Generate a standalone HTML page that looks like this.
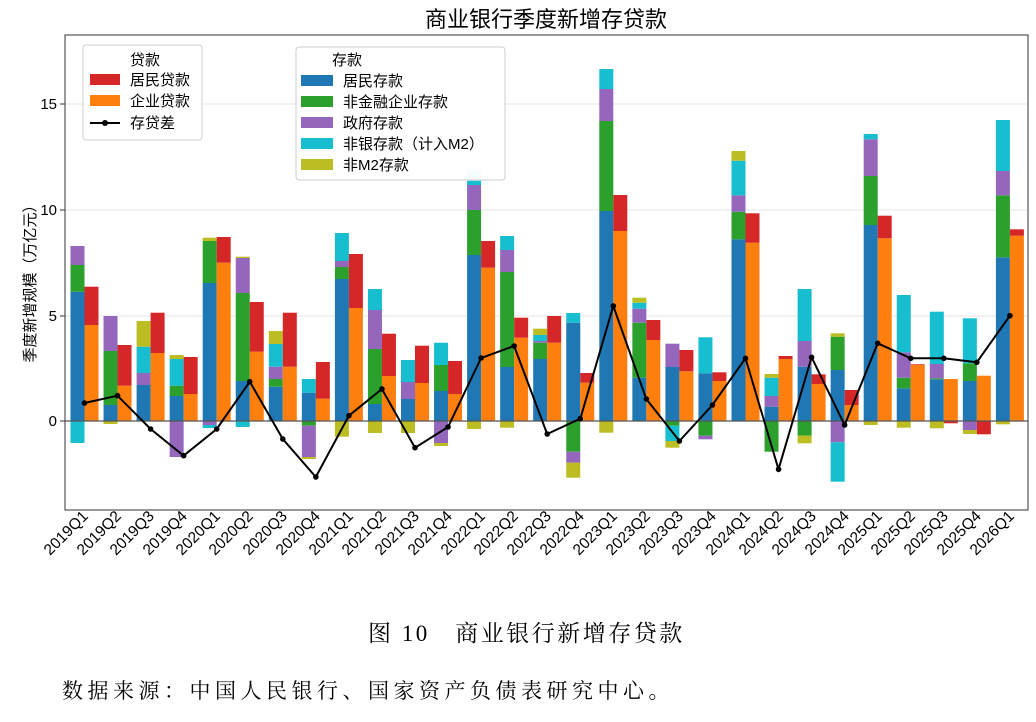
<!DOCTYPE html>
<html><head><meta charset="utf-8"><style>
body{margin:0;background:#fff;width:1036px;height:722px;overflow:hidden}
svg{display:block}
.t{font-family:"Liberation Sans","Noto Sans CJK SC",sans-serif;fill:#000}
.s{font-family:"Liberation Serif","Noto Serif CJK SC",serif;fill:#000}
.x{font-family:"Liberation Sans","Noto Sans CJK SC",sans-serif;fill:#000;font-size:15.5px;text-anchor:end}
</style></head><body>
<svg id="c" width="1036" height="722" xmlns="http://www.w3.org/2000/svg">
<rect width="1036" height="722" fill="#fff"/>
<g stroke="#e6e6e6" stroke-width="1">
<line x1="65" x2="1028" y1="104" y2="104"/>
<line x1="65" x2="1028" y1="210" y2="210"/>
<line x1="65" x2="1028" y1="316" y2="316"/>
</g>
<g id="bars"></g>
<line x1="65" x2="1028" y1="421" y2="421" stroke="#555" stroke-width="1.3"/>
<polyline id="ln" fill="none" stroke="#000" stroke-width="2"/>
<g id="dots"></g>
<rect x="65" y="35" width="963" height="475" fill="none" stroke="#333" stroke-width="1"/>
<g stroke="#333"><line x1="60" x2="65" y1="104" y2="104"/><line x1="60" x2="65" y1="210" y2="210"/><line x1="60" x2="65" y1="316" y2="316"/><line x1="60" x2="65" y1="421" y2="421"/></g>
<g class="t" font-size="15" text-anchor="end">
<text x="57" y="109">15</text><text x="57" y="215">10</text><text x="57" y="321">5</text><text x="57" y="426">0</text>
</g>
<text class="t" font-size="15" transform="translate(35,280) rotate(-90)" text-anchor="middle">季度新增规模（万亿元）</text>
<text class="t" font-size="22" x="546" y="27" text-anchor="middle">商业银行季度新增存贷款</text>
<!-- legend 1 -->
<rect x="83" y="45" width="119" height="95" rx="3" fill="#fff" fill-opacity="0.85" stroke="#ccc"/>
<text class="t" font-size="15" x="145" y="65" text-anchor="middle">贷款</text>
<rect x="90" y="74" width="30" height="11" fill="#d62728"/>
<text class="t" font-size="15" x="130" y="85">居民贷款</text>
<rect x="90" y="95" width="30" height="11" fill="#ff7f0e"/>
<text class="t" font-size="15" x="130" y="106">企业贷款</text>
<line x1="90" x2="120" y1="123" y2="123" stroke="#000" stroke-width="2"/><circle cx="105" cy="123" r="3" fill="#000"/>
<text class="t" font-size="15" x="130" y="128">存贷差</text>
<!-- legend 2 -->
<rect x="296" y="47" width="209" height="133" rx="3" fill="#fff" fill-opacity="0.85" stroke="#ccc"/>
<text class="t" font-size="15" x="347" y="65" text-anchor="middle">存款</text>
<rect x="301" y="75" width="32" height="11" fill="#1f77b4"/><text class="t" font-size="15" x="343" y="86">居民存款</text>
<rect x="301" y="96" width="32" height="11" fill="#2ca02c"/><text class="t" font-size="15" x="343" y="107">非金融企业存款</text>
<rect x="301" y="117" width="32" height="11" fill="#9467bd"/><text class="t" font-size="15" x="343" y="128">政府存款</text>
<rect x="301" y="138" width="32" height="11" fill="#17becf"/><text class="t" font-size="15" x="343" y="149">非银存款（计入M2）</text>
<rect x="301" y="159" width="32" height="11" fill="#bcbd22"/><text class="t" font-size="15" x="343" y="170">非M2存款</text>
<text class="s" font-size="23" x="368" y="641" letter-spacing="2.5">图 10　商业银行新增存贷款</text>
<text class="s" font-size="21" x="62" y="698" letter-spacing="4.5">数据来源：中国人民银行、国家资产负债表研究中心。</text>
<text class="x" transform="translate(89,517) rotate(-45)">2019Q1</text>
<text class="x" transform="translate(122,517) rotate(-45)">2019Q2</text>
<text class="x" transform="translate(155,517) rotate(-45)">2019Q3</text>
<text class="x" transform="translate(188,517) rotate(-45)">2019Q4</text>
<text class="x" transform="translate(221,517) rotate(-45)">2020Q1</text>
<text class="x" transform="translate(254,517) rotate(-45)">2020Q2</text>
<text class="x" transform="translate(288,517) rotate(-45)">2020Q3</text>
<text class="x" transform="translate(321,517) rotate(-45)">2020Q4</text>
<text class="x" transform="translate(354,517) rotate(-45)">2021Q1</text>
<text class="x" transform="translate(387,517) rotate(-45)">2021Q2</text>
<text class="x" transform="translate(420,517) rotate(-45)">2021Q3</text>
<text class="x" transform="translate(453,517) rotate(-45)">2021Q4</text>
<text class="x" transform="translate(486,517) rotate(-45)">2022Q1</text>
<text class="x" transform="translate(519,517) rotate(-45)">2022Q2</text>
<text class="x" transform="translate(552,517) rotate(-45)">2022Q3</text>
<text class="x" transform="translate(585,517) rotate(-45)">2022Q4</text>
<text class="x" transform="translate(618,517) rotate(-45)">2023Q1</text>
<text class="x" transform="translate(651,517) rotate(-45)">2023Q2</text>
<text class="x" transform="translate(684,517) rotate(-45)">2023Q3</text>
<text class="x" transform="translate(717,517) rotate(-45)">2023Q4</text>
<text class="x" transform="translate(751,517) rotate(-45)">2024Q1</text>
<text class="x" transform="translate(784,517) rotate(-45)">2024Q2</text>
<text class="x" transform="translate(817,517) rotate(-45)">2024Q3</text>
<text class="x" transform="translate(850,517) rotate(-45)">2024Q4</text>
<text class="x" transform="translate(883,517) rotate(-45)">2025Q1</text>
<text class="x" transform="translate(916,517) rotate(-45)">2025Q2</text>
<text class="x" transform="translate(949,517) rotate(-45)">2025Q3</text>
<text class="x" transform="translate(982,517) rotate(-45)">2025Q4</text>
<text class="x" transform="translate(1015,517) rotate(-45)">2026Q1</text>
</svg>
<script>
var C={b:"#1f77b4",g:"#2ca02c",p:"#9467bd",c:"#17becf",y:"#bcbd22",l:"#c8eef3",o:"#ff7f0e",r:"#d62728"};
var D=[
[["b",291.7,"g",265,"p",246],["c",443],["o",325,"r",286.7],[],403],
[["b",405,"g",351,"p",316],["y",424],["o",385.7,"r",345],[],395.7],
[["b",385,"p",373,"c",346.7,"y",321],[],["o",353,"r",312.7],[],429],
[["b",396,"g",385.7,"c",359,"y",355],["p",457],["o",394,"r",357],[],455.7],
[["b",283,"g",241,"y",237.7],["p",425,"c",428],["o",262.7,"r",237],[],429],
[["b",381,"g",293,"p",258,"y",256.7],["c",427],["o",351.7,"r",302],[],381.7],
[["b",386.7,"g",379,"p",366.7,"c",344,"y",331],[],["o",366.7,"r",312.7],[],439],
[["b",392.7,"c",379],["g",425.7,"p",457,"y",459],["o",398.7,"r",362],[],477],
[["b",279,"g",267,"p",261,"c",233],["y",436.7],["o",308,"r",254],[],415.7],
[["b",404,"g",349,"p",310,"c",289],["y",433],["o",376,"r",333.7],[],389],
[["b",399,"p",382,"c",360],["y",433],["o",383,"r",345.7],[],447.7],
[["b",391,"g",365,"c",342.7],["p",443,"y",446],["o",394,"r",361],[],427],
[["b",255,"g",210,"p",185,"c",180.7,"l",170],["y",429],["o",267.7,"r",241],[],358],
[["b",367,"g",272,"p",250,"c",236],["y",427.7],["o",337.7,"r",317.7],[],346],
[["b",359,"g",342.7,"p",341,"c",335,"y",328.7],[],["o",342.7,"r",316],[],434],
[["b",322.7,"c",313],["g",451.7,"p",462.7,"y",477.7],["o",382.7,"r",373],[],418.7],
[["b",211,"g",121,"p",89,"c",69],["y",432.7],["o",231,"r",195],[],306],
[["b",377.7,"g",322.7,"p",308.7,"c",302.7,"y",297.7],[],["o",340,"r",320],[],399],
[["b",367,"p",343.7],["g",425.7,"c",441,"y",447.7],["o",371.3,"r",350],[],441],
[["b",373.3,"c",337.3],["g",435.7,"p",439.3],["o",381,"r",372.3],[],405],
[["b",239.3,"g",211.7,"p",195.3,"c",160.7,"y",151],[],["o",242.7,"r",213.3],[],358.3],
[["b",406.7,"p",396,"c",377.7,"y",374],["g",451.7],["o",359,"r",356],[],469.3],
[["b",366.7,"p",341,"c",289],["g",435.7,"y",443.3],["o",384,"r",374.3],[],357.3],
[["b",370,"g",336.7,"y",333.3],["p",442.3,"c",481.7],["o",405,"r",390],[],425],
[["b",225,"g",176,"p",139.3,"c",134],["y",425],["o",238.3,"r",215.7],[],343.3],
[["b",388.3,"g",377.7,"p",352.3,"c",295],["y",427.7],["o",365,"r",364.3],[],358.3],
[["b",379.3,"g",378.3,"p",364,"c",311.7],["y",428.3],["o",379],["r",423.3],358.3],
[["b",381,"g",363.3,"c",318.3],["p",430,"y",434],["o",375.7],["r",434.3],362.3],
[["b",257.3,"g",195.3,"p",171,"c",120],["y",424.3],["o",235.7,"r",229.3],[],315.7]];
var NS="http://www.w3.org/2000/svg",B=document.getElementById("bars"),Dt=document.getElementById("dots"),pts=[];
function R(x,y1,y2,c){var r=document.createElementNS(NS,"rect");r.setAttribute("x",x);r.setAttribute("width",14);r.setAttribute("y",Math.min(y1,y2));r.setAttribute("height",Math.abs(y2-y1));r.setAttribute("fill",c);B.appendChild(r);}
function S(x,l){var p=421;for(var i=0;i<l.length;i+=2){R(x,p,l[i+1],C[l[i]]);p=l[i+1];}}
D.forEach(function(d,i){var x=70.5+i*33.05;S(x,d[0]);S(x,d[1]);S(x+14,d[2]);S(x+14,d[3]);pts.push((x+14).toFixed(1)+","+d[4]);
var c=document.createElementNS(NS,"circle");c.setAttribute("cx",x+14);c.setAttribute("cy",d[4]);c.setAttribute("r",2.8);Dt.appendChild(c);});
document.getElementById("ln").setAttribute("points",pts.join(" "));
</script>
</body></html>
